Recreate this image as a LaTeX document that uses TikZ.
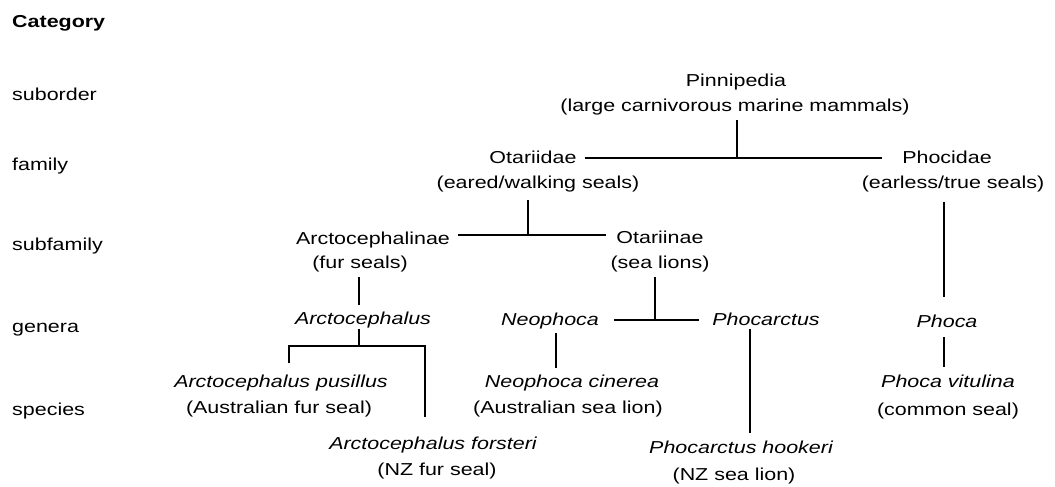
\documentclass[tikz,border=0pt]{standalone}
\usepackage{fontspec}
\setmainfont[FakeStretch=1.24]{Liberation Sans}
\usetikzlibrary{calc}
\begin{document}
\begin{tikzpicture}[x=1pt,y=-1pt,
  txt/.style={anchor=base, inner sep=0pt, font=\fontsize{17.3}{25}\selectfont},
  it/.style={txt, font=\fontsize{17.3}{25}\selectfont\itshape},
  cat/.style={txt, anchor=base west},
  ln/.style={line width=1.4pt}]
\useasboundingbox[fill=white] (0,0) rectangle (1055,487);
% category column
\node[cat, font=\fontsize{17.3}{25}\selectfont\bfseries] (cat) at (12,28) {Category};
\node[cat] (rsub) at (12,100) {suborder};
\node[cat] (rfam) at (12,170) {family};
\node[cat] (rsf) at (12,250) {subfamily};
\node[cat] (rgen) at (12,332) {genera};
\node[cat] (rsp) at (12,415) {species};
% tree
\node[txt] (pin1) at (736,86) {Pinnipedia};
\node[txt] (pin2) at (735,111) {(large carnivorous marine mammals)};
\node[txt] (ota1) at (533,163.5) {Otariidae};
\node[txt] (ota2) at (538,188) {(eared/walking seals)};
\node[txt] (pho1) at (947,163.5) {Phocidae};
\node[txt] (pho2) at (953,188) {(earless/true seals)};
\node[txt] (arc1) at (373,244) {Arctocephalinae};
\node[txt] (arc2) at (360,268) {(fur seals)};
\node[txt] (otn1) at (660,243) {Otariinae};
\node[txt] (otn2) at (660,268) {(sea lions)};
\node[it] (genA) at (363,324) {Arctocephalus};
\node[it] (genN) at (550,325) {Neophoca};
\node[it] (genP) at (766,325) {Phocarctus};
\node[it] (genPh) at (947,327) {Phoca};
\node[it] (spAp1) at (281,387) {Arctocephalus pusillus};
\node[txt] (spAp2) at (279,413) {(Australian fur seal)};
\node[it] (spAf1) at (433,449) {Arctocephalus forsteri};
\node[txt] (spAf2) at (437,475) {(NZ fur seal)};
\node[it] (spNc1) at (572,387) {Neophoca cinerea};
\node[txt] (spNc2) at (568,413) {(Australian sea lion)};
\node[it] (spPh1) at (741,453) {Phocarctus hookeri};
\node[txt] (spPh2) at (734,480) {(NZ sea lion)};
\node[it] (spPv1) at (948,387) {Phoca vitulina};
\node[txt] (spPv2) at (948,415) {(common seal)};
% junctions
\coordinate (j1) at (737,158);
\coordinate (j2) at (528,235);
\coordinate (j3) at (359,346);
\coordinate (j4) at (655,320);
% connectors
\draw[ln] ($(pin2.south -| j1)+(0,5)$) -- (j1);
\draw[ln] ($(ota1.east |- j1)+(8,0)$) -- ($(pho1.west |- j1)+(-20,0)$);
\draw[ln] ($(ota2.south -| j2)+(0,8)$) -- (j2);
\draw[ln] ($(arc1.east |- j2)+(8,0)$) -- ($(otn1.west |- j2)+(-10,0)$);
\draw[ln] ($(pho2.south -| genPh.north)+(-3,10)$) -- ($(genPh.north)+(-3,-17)$);
\draw[ln] ($(genPh.south)+(-3,10)$) -- ($(spPv1.north)+(-4,-7)$);
\draw[ln] ($(arc2.south)+(-1,5)$) -- ($(arc2.south |- genA.north)+(-1,-6)$);
\draw[ln] ($(genA.south -| j3)+(0,1)$) -- (j3);
\draw[ln] ($(spAp1.north)+(8,-11)$) |- (j3) -| ($(spAf1.north)+(-8,-19)$);
\draw[ln] ($(otn2.south -| j4)+(0,5)$) -- (j4);
\draw[ln] ($(genN.east |- j4)+(15,0)$) -- ($(genP.west |- j4)+(-13,0)$);
\draw[ln] ($(genN.south)+(6,4.5)$) -- ($(spNc1.north)+(-16,-6)$);
\draw[ln] ($(genP.south)+(-16,3.5)$) -- ($(spPh1.north)+(9,-7)$);
\end{tikzpicture}
\end{document}
